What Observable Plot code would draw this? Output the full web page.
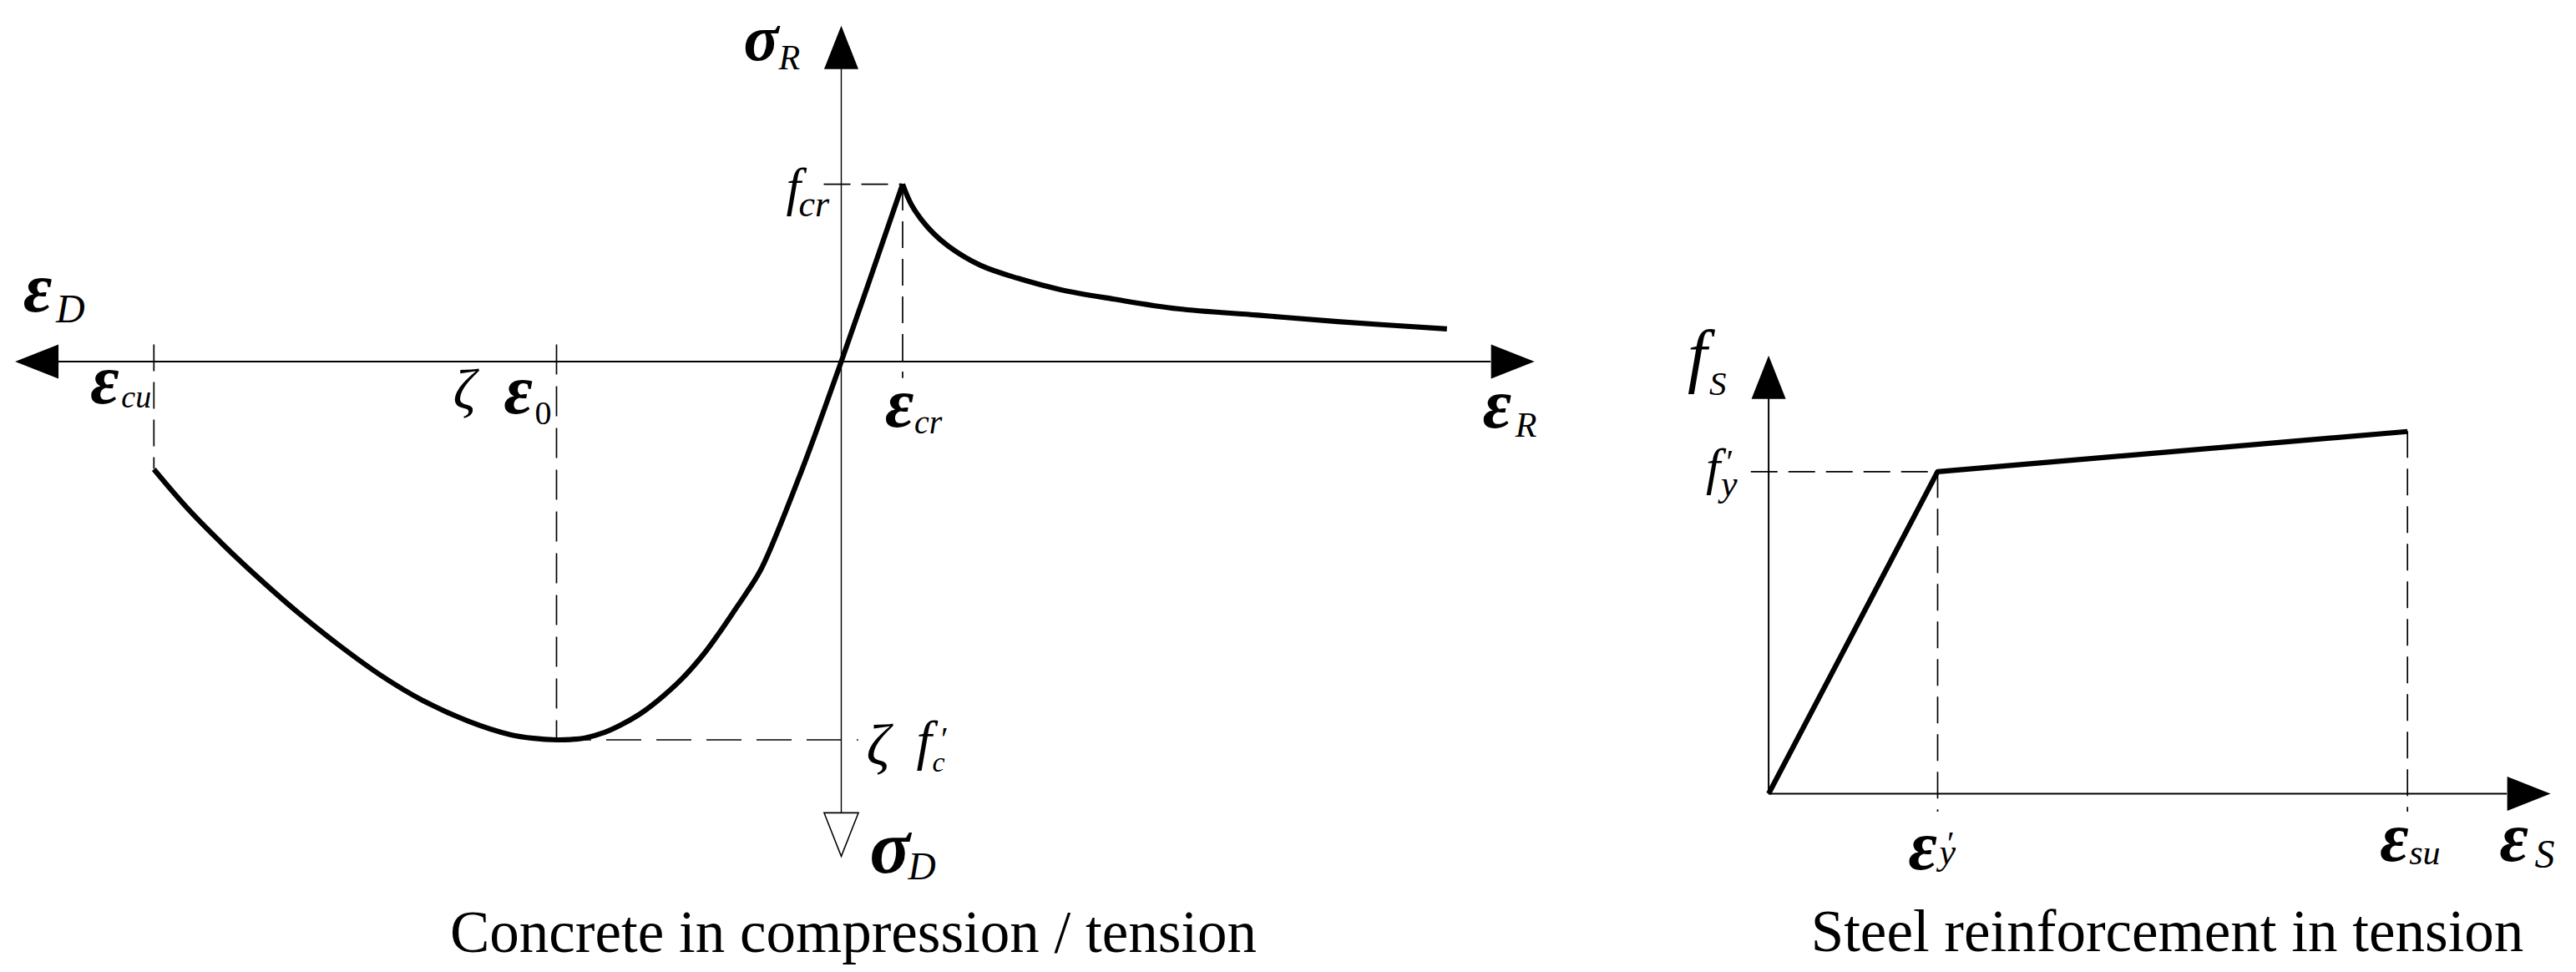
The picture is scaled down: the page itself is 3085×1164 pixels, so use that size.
<!DOCTYPE html>
<html>
<head>
<meta charset="utf-8">
<script src="https://cdn.jsdelivr.net/npm/d3@7"></script>
<script src="https://cdn.jsdelivr.net/npm/@observablehq/plot@0.6"></script>
<style>
  html, body { margin: 0; padding: 0; background: #fff; }
  #wrap { display: flex; flex-direction: row; width: 3085px; height: 1164px; }
  #wrap svg { flex: none; display: block; max-width: none; }
</style>
</head>
<body>
<div id="wrap"></div>
<script>
// ---------------- DATA ----------------
// Concrete: strain normalised by ζε0, stress normalised by ζf'c (tension positive, compression negative)
const concreteAscStrain = [-2.414, -2.295, -2.171, -2.048, -1.904, -1.760, -1.616, -1.472, -1.308, -1.163, -1.08, -1.0,
  -0.95, -0.90, -0.83, -0.772, -0.70, -0.628, -0.556, -0.485, -0.433, -0.382, -0.33, -0.279, -0.14, 0, 0.2155];
const concreteAscStress = [-0.285, -0.389, -0.484, -0.571, -0.666, -0.752, -0.830, -0.895, -0.951, -0.986, -0.996, -1.0,
  -0.999, -0.995, -0.980, -0.960, -0.928, -0.886, -0.836, -0.775, -0.722, -0.666, -0.608, -0.545, -0.29, 0, 0.469];
const concreteSoftStrain = [0.2155, 0.247, 0.3035, 0.378, 0.490, 0.621, 0.771, 0.958, 1.182, 1.463, 1.743, 2.127];
const concreteSoftStress = [0.469, 0.414, 0.355, 0.304, 0.254, 0.220, 0.190, 0.165, 0.1395, 0.1227, 0.1057, 0.0863];
const epsCu = -2.414, zetaEps0 = -1.0, epsCr = 0.2155;
const fCr = 0.469, zetaFc = -1.0;
const concreteStrainAxis = [-2.749, 2.282];   // ends of the ε axis (arrow bases)
const concreteStressAxis = [-1.193, 0.773];   // ends of the σ axis (arrow bases)

// Steel: strain normalised by ε'y, stress normalised by f'y
const steelStrain = [0, 1, 3.78];
const steelStress = [0, 1, 1.1245];
const epsY = 1, epsSu = 3.78, fY = 1;
const steelStrainAxis = [0, 4.370];
const steelStressAxis = [0, 1.226];

// captions
const concreteCaption = "Concrete in compression / tension";
const steelCaption = "Steel reinforcement in tension";

// ---------------- STYLE ----------------
const SERIF = "'Liberation Serif','Times New Roman',Times,serif";
const H = 1164;

function arrowHead(dir) {
  return {
    draw(ctx, size) {
      const s = Math.sqrt(size / Math.PI), w = 0.395 * s;
      const p = {
        up: [[0, -s], [w, 0], [-w, 0]],
        down: [[0, s], [w, 0], [-w, 0]],
        left: [[-s, 0], [0, w], [0, -w]],
        right: [[s, 0], [0, w], [0, -w]]
      }[dir];
      ctx.moveTo(p[0][0], p[0][1]);
      ctx.lineTo(p[1][0], p[1][1]);
      ctx.lineTo(p[2][0], p[2][1]);
      ctx.closePath();
    }
  };
}
function arrow(x, y, dir, hollow) {
  return Plot.dot([[x, y]], {
    x: d => d[0], y: d => d[1], r: 52, symbol: arrowHead(dir),
    fill: hollow ? "white" : "black", stroke: hollow ? "black" : "none", strokeWidth: 1.6
  });
}
function part(ax, ay, t, o) {
  return Plot.text([[ax, ay]], {
    x: d => d[0], y: d => d[1], text: () => t,
    textAnchor: "start", lineAnchor: "bottom",
    fontFamily: SERIF, fontSize: o.size,
    fontStyle: o.upright ? "normal" : "italic",
    fontWeight: o.bold ? "bold" : "normal",
    dx: o.dx, dy: o.dy, fill: "black"
  });
}
const EPS = 84;
const dash = {stroke: "black", strokeWidth: 1.7, strokeDasharray: "32,13"};
const curveStyle = {stroke: "black", strokeWidth: 6.2, strokeLinejoin: "round", strokeLinecap: "butt"};
const zip = (a, b) => a.map((v, i) => ({x: v, y: b[i]}));

// ---------------- CONCRETE ----------------
const concrete = Plot.plot({
  width: 2000, height: H,
  marginTop: 0, marginRight: 0, marginBottom: 0, marginLeft: 0,
  x: {domain: [-2.953, 2.912], axis: null},
  y: {domain: [-1.6148, 0.9547], axis: null},
  style: {background: "transparent", overflow: "visible"},
  marks: [
    // axes
    Plot.ruleY([0], {x1: concreteStrainAxis[0], x2: concreteStrainAxis[1], stroke: "black", strokeWidth: 2}),
    Plot.ruleX([0], {y1: concreteStressAxis[0], y2: concreteStressAxis[1], stroke: "black", strokeWidth: 1.4}),
    arrow(concreteStrainAxis[0], 0, "left"),
    arrow(concreteStrainAxis[1], 0, "right"),
    arrow(0, concreteStressAxis[1], "up"),
    arrow(0, concreteStressAxis[0], "down", true),
    // guides
    Plot.ruleY([fCr], {x1: -0.06, x2: epsCr, ...dash}),
    Plot.ruleX([epsCr], {y1: fCr, y2: -0.045, ...dash}),
    Plot.ruleX([epsCu], {y1: 0.044, y2: concreteAscStress[0], ...dash}),
    Plot.ruleX([zetaEps0], {y1: 0.044, y2: zetaFc, ...dash, strokeDasharray: "36,14"}),
    Plot.ruleY([zetaFc], {x1: zetaEps0, x2: 0.061, ...dash, strokeWidth: 1.4, strokeDasharray: "42,18"}),
    // curves
    Plot.line(zip(concreteAscStrain, concreteAscStress), {x: "x", y: "y", curve: "catmull-rom", ...curveStyle}),
    Plot.line(zip(concreteSoftStrain, concreteSoftStress), {x: "x", y: "y", curve: "catmull-rom", ...curveStyle}),
    // labels
    part(0, concreteStressAxis[1], "σ", {size: 78, bold: true, dx: -117, dy: -11}),
    part(0, concreteStressAxis[1], "R", {size: 42, dx: -75, dy: 0}),
    part(0, fCr, "f", {size: 63, dx: -66, dy: 24}),
    part(0, fCr, "cr", {size: 44, dx: -51, dy: 38}),
    part(epsCr, 0, "ε", {size: EPS, bold: true, dx: -21, dy: 78}),
    part(epsCr, 0, "cr", {size: 40, dx: 14, dy: 86}),
    part(concreteStrainAxis[1], 0, "ε", {size: EPS, bold: true, dx: -10, dy: 79}),
    part(concreteStrainAxis[1], 0, "R", {size: 42, dx: 29, dy: 90}),
    part(concreteStrainAxis[0], 0, "ε", {size: EPS, bold: true, dx: -42, dy: -60}),
    part(concreteStrainAxis[0], 0, "D", {size: 48, dx: -3, dy: -47}),
    part(epsCu, 0, "ε", {size: EPS, bold: true, dx: -76, dy: 50}),
    part(epsCu, 0, "cu", {size: 38, dx: -39, dy: 55}),
    part(zetaEps0, 0, "ζ", {size: 68, dx: -124, dy: 56}),
    part(zetaEps0, 0, "ε", {size: EPS, bold: true, dx: -63, dy: 62}),
    part(zetaEps0, 0, "0", {size: 40, upright: true, dx: -26, dy: 75}),
    part(0, zetaFc, "ζ", {size: 70, dx: 30, dy: 30}),
    part(0, zetaFc, "f", {size: 66, dx: 90, dy: 23}),
    part(0, zetaFc, "c", {size: 34, dx: 109, dy: 38}),
    part(0, zetaFc, "′", {size: 40, dx: 117, dy: 12}),
    part(0, concreteStressAxis[0], "σ", {size: 90, bold: true, dx: 34, dy: 72}),
    part(0, concreteStressAxis[0], "D", {size: 46, dx: 80, dy: 80}),
    // caption
    Plot.text([concreteCaption], {frameAnchor: "bottom", text: d => d, lineAnchor: "bottom", dx: 21.5, dy: -25, fontSize: 71, fontFamily: SERIF, fill: "black"})
  ]
});

// ---------------- STEEL ----------------
const steel = Plot.plot({
  width: 1085, height: H,
  marginTop: 0, marginRight: 0, marginBottom: 0, marginLeft: 0,
  x: {domain: [-0.581, 4.7795], axis: null},
  y: {domain: [-0.5548, 2.463], axis: null},
  style: {background: "transparent", overflow: "visible"},
  marks: [
    Plot.ruleY([0], {x1: steelStrainAxis[0], x2: steelStrainAxis[1], stroke: "black", strokeWidth: 2}),
    Plot.ruleX([0], {y1: steelStressAxis[0], y2: steelStressAxis[1], stroke: "black", strokeWidth: 2}),
    arrow(steelStrainAxis[1], 0, "right"),
    arrow(0, steelStressAxis[1], "up"),
    Plot.ruleY([fY], {x1: -0.103, x2: epsY, ...dash}),
    Plot.ruleX([epsY], {y1: fY, y2: -0.057, ...dash}),
    Plot.ruleX([epsSu], {y1: steelStress[2], y2: -0.057, ...dash}),
    Plot.line(zip(steelStrain, steelStress), {x: "x", y: "y", ...curveStyle}),
    part(0, steelStressAxis[1], "f", {size: 84, dx: -97, dy: -24}),
    part(0, steelStressAxis[1], "S", {size: 41, dx: -71, dy: -5}),
    part(0, fY, "f", {size: 62, dx: -75, dy: 15}),
    part(0, fY, "′", {size: 40, dx: -53, dy: 1}),
    part(0, fY, "y", {size: 44, dx: -57, dy: 29}),
    part(epsY, 0, "ε", {size: EPS, bold: true, dx: -35, dy: 90}),
    part(epsY, 0, "′", {size: 40, dx: 9, dy: 72}),
    part(epsY, 0, "y", {size: 44, dx: 2, dy: 84}),
    part(epsSu, 0, "ε", {size: EPS, bold: true, dx: -33, dy: 80}),
    part(epsSu, 0, "su", {size: 42, dx: 2, dy: 84}),
    part(steelStrainAxis[1], 0, "ε", {size: EPS, bold: true, dx: -9, dy: 80}),
    part(steelStrainAxis[1], 0, "S", {size: 48, dx: 33, dy: 88}),
    Plot.text([steelCaption], {frameAnchor: "bottom", text: d => d, lineAnchor: "bottom", dx: 52.5, dy: -25.5, fontSize: 71, fontFamily: SERIF, fill: "black"})
  ]
});

const wrap = document.getElementById("wrap");
wrap.appendChild(concrete);
wrap.appendChild(steel);
</script>
</body>
</html>
